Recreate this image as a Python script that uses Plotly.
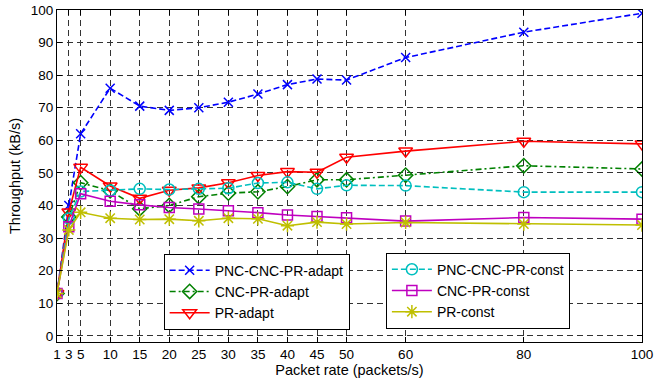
import plotly.graph_objects as go

packet_rate = [1, 3, 5, 10, 15, 20, 25, 30, 35, 40, 45, 50, 60, 80, 100]

pnc_cnc_pr_adapt = [13, 40, 62, 76, 70.5, 69.2, 70.0, 71.7, 74.2, 77.1, 78.8, 78.5, 85.4, 93.2, 99.0]
cnc_pr_adapt = [13, 36.5, 47, 44.5, 39, 40, 42.7, 43.8, 44.2, 45.8, 47.9, 47.9, 49.3, 52.2, 51.2]
pr_adapt = [13, 38, 51.7, 46, 42.2, 44.7, 45.4, 47.0, 49.2, 50.4, 50.2, 54.8, 56.7, 59.7, 58.9]
pnc_cnc_pr_const = [13, 36, 44.3, 44.6, 45.1, 44.9, 45.1, 45.3, 46.9, 47.1, 45.1, 46.2, 46.1, 44.1, 44.1]
cnc_pr_const = [13, 33.5, 43.6, 41.3, 40.2, 39.4, 38.9, 38.4, 37.8, 37.1, 36.6, 36.2, 35.2, 36.3, 35.8]
pr_const = [13, 32.5, 37.9, 36.1, 35.7, 35.8, 35.3, 36.1, 35.9, 33.8, 34.9, 34.3, 34.8, 34.3, 34.0]

x_ticks = [1, 3, 5, 10, 15, 20, 25, 30, 35, 40, 45, 50, 60, 80, 100]
y_ticks = [0, 10, 20, 30, 40, 50, 60, 70, 80, 90, 100]

series = [
    ("PNC-CNC-PR-adapt", pnc_cnc_pr_adapt, "#0000FF", "6px,3px", "x-thin-open", 9, "legend"),
    ("CNC-PR-adapt", cnc_pr_adapt, "#008000", "6px,3px,2px,3px", "diamond-open", 11, "legend"),
    ("PR-adapt", pr_adapt, "#FF0000", "solid", "triangle-down-open", 12, "legend"),
    ("PNC-CNC-PR-const", pnc_cnc_pr_const, "#00BFBF", "6px,3px", "circle-open", 11, "legend2"),
    ("CNC-PR-const", cnc_pr_const, "#BF00BF", "solid", "square-open", 10, "legend2"),
    ("PR-const", pr_const, "#BFBF00", "solid", "asterisk-open", 11, "legend2"),
]

fig = go.Figure()
for name, ys, color, dash, sym, size, leg in series:
    fig.add_trace(go.Scatter(
        x=packet_rate, y=ys, name=name, mode="lines+markers",
        line=dict(color=color, width=1.6, dash=dash),
        marker=dict(symbol=sym, size=size, color=color, line=dict(color=color, width=1.5)),
        legend=leg,
    ))

FAM = "Liberation Sans, Arial, sans-serif"
tick_font = dict(family=FAM, size=13.5, color="black")
title_font = dict(family=FAM, size=14.5, color="black")
axis_common = dict(
    showline=True, linecolor="black", linewidth=1, mirror="ticks",
    ticks="inside", ticklen=5, tickcolor="black",
    showgrid=True, gridcolor="#333333", gridwidth=1, griddash="6px,4px",
    zeroline=False, tickfont=tick_font, ticklabeloverflow="allow", automargin=False,
)
leg_common = dict(xanchor="left", yanchor="top", bgcolor="white", bordercolor="black",
                  borderwidth=1, font=dict(family=FAM, size=14, color="black"),
                  itemwidth=40, tracegroupgap=0)

fig.update_layout(
    width=654, height=385,
    margin=dict(l=57, r=11.5, t=10, b=43, autoexpand=False),
    paper_bgcolor="white", plot_bgcolor="white",
    font=tick_font,
    xaxis=dict(range=[1, 100], tickvals=x_ticks, ticktext=[str(v) for v in x_ticks],
               title=dict(text="Packet rate (packets/s)", font=title_font, standoff=2), **axis_common),
    yaxis=dict(range=[-1.9, 100], tickvals=y_ticks,
               title=dict(text="Throughput (kB/s)", font=title_font, standoff=6), **axis_common),
    legend=dict(x=0.1823, y=0.266, **leg_common),
    legend2=dict(x=0.5622, y=0.269, **leg_common),
)

fig.write_html("out.html", config={"displayModeBar": False},
               post_script="document.body.style.margin='0px';")
